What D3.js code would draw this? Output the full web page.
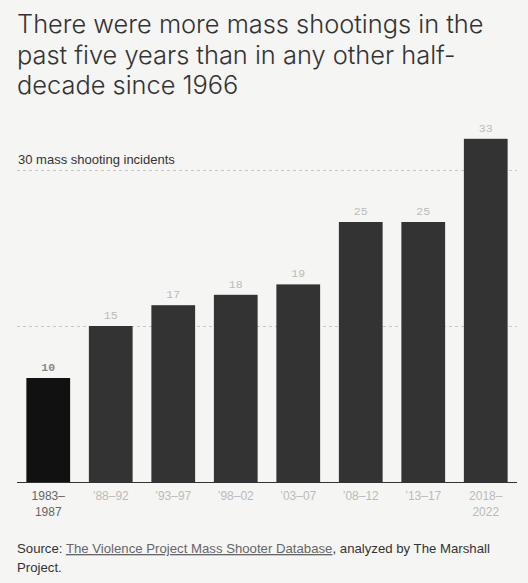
<!DOCTYPE html>
<html>
<head>
<meta charset="utf-8">
<script src="https://cdn.jsdelivr.net/npm/d3@7"></script>
<style>
  body { margin: 0; background: #f5f5f3; }
  svg { display: block; }
</style>
</head>
<body>
<svg id="chart"></svg>
<script>
var periods = ['1983–1987', '88–92', '93–97', '98–02', '03–07', '08–12', '13–17', '2018–2022']
var tickLines = [['1983–', '1987'], ['\u201988–92'], ['\u201993–97'], ['\u201998–02'], ['\u201903–07'], ['\u201908–12'], ['\u201913–17'], ['2018–', '2022']]
var incidents = [10, 15, 17, 18, 19, 25, 25, 33]
var gridValues = [15, 30]
var titleLines = ['There were more mass shootings in the', 'past five years than in any other half-', 'decade since 1966']

var width = 528
var height = 583

var svg = d3.select('#chart')
  .attr('width', width)
  .attr('height', height)

svg.append('rect')
  .attr('width', width)
  .attr('height', height)
  .attr('fill', '#f5f5f3')

// title
svg.append('g').selectAll('text')
  .data(titleLines)
  .enter().append('text')
  .attr('x', 17)
  .attr('y', function (d, i) { return 33 + i * 30.5 })
  .attr('fill', '#333')
  .style('font-family', 'Inter, sans-serif')
  .style('font-weight', 300)
  .style('font-size', '25.4px')
  .text(function (d) { return d })

var x = d3.scaleBand()
  .domain(periods)
  .range([17, 517])
  .paddingInner(0.3)
  .paddingOuter(0.15)

var y = d3.scaleLinear()
  .domain([0, 30])
  .range([482, 170])

// gridlines
svg.append('g').selectAll('line')
  .data(gridValues)
  .enter().append('line')
  .attr('x1', 17)
  .attr('x2', 517)
  .attr('y1', function (d) { return y(d) + 0.5 })
  .attr('y2', function (d) { return y(d) + 0.5 })
  .attr('stroke', '#c8c8c8')
  .attr('stroke-dasharray', '3,3')

svg.append('text')
  .attr('x', 18)
  .attr('y', y(30) - 6)
  .attr('fill', '#333')
  .style('font-family', '"Liberation Sans", Arial, sans-serif')
  .style('font-size', '13px')
  .text('30 mass shooting incidents')

// bars
svg.append('g').selectAll('rect')
  .data(incidents)
  .enter().append('rect')
  .attr('x', function (d, i) { return x(periods[i]) })
  .attr('y', function (d) { return y(d) })
  .attr('width', x.bandwidth())
  .attr('height', function (d) { return y(0) - y(d) })
  .attr('fill', function (d, i) { return i === 0 ? '#111' : '#333' })

// value labels
svg.append('g').selectAll('text')
  .data(incidents)
  .enter().append('text')
  .attr('x', function (d, i) { return x(periods[i]) + x.bandwidth() / 2 })
  .attr('y', function (d) { return y(d) - 7 })
  .attr('text-anchor', 'middle')
  .attr('fill', function (d, i) { return i === 0 ? '#888' : '#bbb' })
  .style('font-family', '"Liberation Mono", "DejaVu Sans Mono", monospace')
  .style('font-weight', function (d, i) { return i === 0 ? 'bold' : 'normal' })
  .style('font-size', '11.5px')
  .text(function (d) { return d })

// axis baseline
svg.append('line')
  .attr('x1', 17)
  .attr('x2', 517)
  .attr('y1', y(0) + 0.5)
  .attr('y2', y(0) + 0.5)
  .attr('stroke', '#333')

// tick labels
var ticks = svg.append('g').selectAll('text')
  .data(tickLines)
  .enter().append('text')
  .attr('x', function (d, i) { return x(periods[i]) + x.bandwidth() / 2 })
  .attr('y', 500)
  .attr('text-anchor', 'middle')
  .attr('fill', function (d, i) { return i === 0 ? '#666' : '#bbb' })
  .style('font-family', '"Liberation Sans", Arial, sans-serif')
  .style('font-size', '12px')

ticks.selectAll('tspan')
  .data(function (d) { return d })
  .enter().append('tspan')
  .attr('x', function () { return d3.select(this.parentNode).attr('x') })
  .attr('dy', function (d, i) { return i === 0 ? 0 : 16 })
  .text(function (d) { return d })

// source
var source = svg.append('text')
  .attr('x', 17)
  .attr('y', 553)
  .attr('fill', '#333')
  .style('font-family', '"Liberation Sans", Arial, sans-serif')
  .style('font-size', '13.2px')

source.append('tspan').text('Source: ')
source.append('tspan')
  .attr('fill', '#666')
  .attr('text-decoration', 'underline')
  .text('The Violence Project Mass Shooter Database')
source.append('tspan').text(', analyzed by The Marshall')

svg.append('text')
  .attr('x', 17)
  .attr('y', 572)
  .attr('fill', '#333')
  .style('font-family', '"Liberation Sans", Arial, sans-serif')
  .style('font-size', '13.2px')
  .text('Project.')
</script>
</body>
</html>
